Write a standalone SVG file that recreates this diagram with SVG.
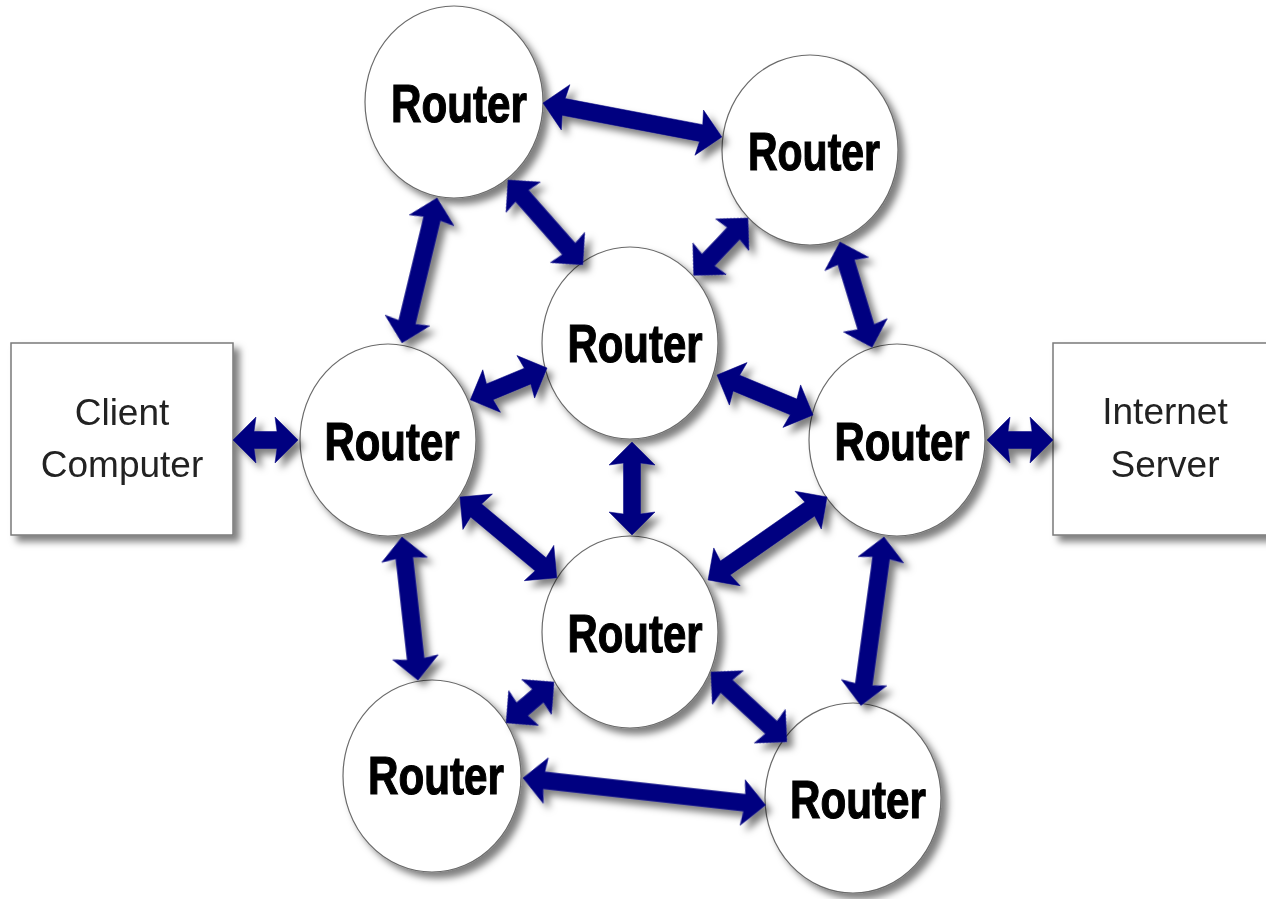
<svg xmlns="http://www.w3.org/2000/svg" width="1266" height="899" viewBox="0 0 1266 899">
  <defs>
    <filter id="shadow" x="-20%" y="-20%" width="150%" height="150%">
      <feDropShadow dx="6" dy="6" stdDeviation="3.5" flood-color="#000" flood-opacity="0.5"/>
    </filter>
    <style>
      .router ellipse { fill: #ffffff; stroke: #6a6a6a; stroke-width: 1.2; }
      .router text { font-family: "Liberation Sans Narrow", "Liberation Sans", Arial, sans-serif; font-weight: bold; font-size: 54px; fill: #000; stroke: #000; stroke-width: 1.2; text-anchor: middle; }
      .box rect { fill: #ffffff; stroke: #7a7a7a; stroke-width: 1.5; }
      .box text { font-family: "Liberation Sans", Arial, sans-serif; font-size: 37px; fill: #222; text-anchor: middle; }
      .conn path { fill: #000080; stroke: #000080; stroke-width: 0.5; stroke-linejoin: miter; }
    </style>
  </defs>
  <rect width="1266" height="899" fill="#ffffff"/>

  <g id="nodes" filter="url(#shadow)">
    <g id="client" class="box">
      <rect x="11" y="343" width="222" height="192"/>
      <text x="122" y="425">Client</text>
      <text x="122" y="477">Computer</text>
    </g>
    <g id="server" class="box">
      <rect x="1053" y="343" width="230" height="192"/>
      <text x="1165" y="424">Internet</text>
      <text x="1165" y="477">Server</text>
    </g>
    <g id="router-tl" class="router">
      <ellipse cx="454" cy="102" rx="89" ry="96"/>
      <text x="459" y="122" textLength="136" lengthAdjust="spacingAndGlyphs">Router</text>
    </g>
    <g id="router-tr" class="router">
      <ellipse cx="810" cy="150" rx="88" ry="95"/>
      <text x="814" y="170" textLength="132" lengthAdjust="spacingAndGlyphs">Router</text>
    </g>
    <g id="router-c" class="router">
      <ellipse cx="630" cy="343" rx="88" ry="96"/>
      <text x="635" y="362" textLength="135" lengthAdjust="spacingAndGlyphs">Router</text>
    </g>
    <g id="router-l" class="router">
      <ellipse cx="388" cy="440" rx="88" ry="96"/>
      <text x="392" y="460" textLength="135" lengthAdjust="spacingAndGlyphs">Router</text>
    </g>
    <g id="router-r" class="router">
      <ellipse cx="897" cy="440" rx="88" ry="96"/>
      <text x="902" y="460" textLength="135" lengthAdjust="spacingAndGlyphs">Router</text>
    </g>
    <g id="router-lc" class="router">
      <ellipse cx="630" cy="632" rx="88" ry="96"/>
      <text x="635" y="652" textLength="135" lengthAdjust="spacingAndGlyphs">Router</text>
    </g>
    <g id="router-bl" class="router">
      <ellipse cx="432" cy="776" rx="89" ry="96"/>
      <text x="436" y="794" textLength="136" lengthAdjust="spacingAndGlyphs">Router</text>
    </g>
    <g id="router-br" class="router">
      <ellipse cx="853" cy="798" rx="88" ry="95"/>
      <text x="858" y="818" textLength="136" lengthAdjust="spacingAndGlyphs">Router</text>
    </g>
  </g>

  <g id="connectors" class="conn" filter="url(#shadow)">
    <path transform="translate(543,103) rotate(10.75)" d="M0,0 L23,-23 L21,-8.5 L161,-8.5 L159,-23 L182,0 L159,23 L161,8.5 L21,8.5 L23,23 Z"/>
    <path transform="translate(437,198) rotate(103.57)" d="M0,0 L23,-23 L21,-8.5 L128,-8.5 L126,-23 L149,0 L126,23 L128,8.5 L21,8.5 L23,23 Z"/>
    <path transform="translate(508,180) rotate(48.58)" d="M0,0 L23,-23 L21,-8.5 L92,-8.5 L90,-23 L113,0 L90,23 L92,8.5 L21,8.5 L23,23 Z"/>
    <path transform="translate(748,218) rotate(133.45)" d="M0,0 L23,-23 L21,-8.5 L58,-8.5 L56,-23 L79,0 L56,23 L58,8.5 L21,8.5 L23,23 Z"/>
    <path transform="translate(840,242) rotate(73.05)" d="M0,0 L23,-23 L21,-8.5 L89,-8.5 L87,-23 L110,0 L87,23 L89,8.5 L21,8.5 L23,23 Z"/>
    <path transform="translate(547,368) rotate(157.43)" d="M0,0 L23,-23 L21,-8.5 L62,-8.5 L60,-23 L83,0 L60,23 L62,8.5 L21,8.5 L23,23 Z"/>
    <path transform="translate(717,375) rotate(22.62)" d="M0,0 L23,-23 L21,-8.5 L83,-8.5 L81,-23 L104,0 L81,23 L83,8.5 L21,8.5 L23,23 Z"/>
    <path transform="translate(632,442) rotate(90)" d="M0,0 L23,-23 L21,-8.5 L72,-8.5 L70,-23 L93,0 L70,23 L72,8.5 L21,8.5 L23,23 Z"/>
    <path transform="translate(460,497) rotate(39.87)" d="M0,0 L23,-23 L21,-8.5 L105,-8.5 L103,-23 L126,0 L103,23 L105,8.5 L21,8.5 L23,23 Z"/>
    <path transform="translate(827,497) rotate(145.10)" d="M0,0 L23,-23 L21,-8.5 L124,-8.5 L122,-23 L145,0 L122,23 L124,8.5 L21,8.5 L23,23 Z"/>
    <path transform="translate(402,537) rotate(83.62)" d="M0,0 L23,-23 L21,-8.5 L123,-8.5 L121,-23 L144,0 L121,23 L123,8.5 L21,8.5 L23,23 Z"/>
    <path transform="translate(884,537) rotate(97.80)" d="M0,0 L23,-23 L21,-8.5 L149,-8.5 L147,-23 L170,0 L147,23 L149,8.5 L21,8.5 L23,23 Z"/>
    <path transform="translate(554,682) rotate(139.50)" d="M0,0 L23,-23 L21,-8.5 L42,-8.5 L40,-23 L63,0 L40,23 L42,8.5 L21,8.5 L23,23 Z"/>
    <path transform="translate(711,672) rotate(42.65)" d="M0,0 L23,-23 L21,-8.5 L82,-8.5 L80,-23 L103,0 L80,23 L82,8.5 L21,8.5 L23,23 Z"/>
    <path transform="translate(523,778) rotate(6.37)" d="M0,0 L23,-23 L21,-8.5 L223,-8.5 L221,-23 L244,0 L221,23 L223,8.5 L21,8.5 L23,23 Z"/>
    <path transform="translate(233,440)" d="M0,0 L23,-23 L21,-8.5 L44,-8.5 L42,-23 L65,0 L42,23 L44,8.5 L21,8.5 L23,23 Z"/>
    <path transform="translate(987,440)" d="M0,0 L23,-23 L21,-8.5 L45,-8.5 L43,-23 L66,0 L43,23 L45,8.5 L21,8.5 L23,23 Z"/>
  </g>
</svg>
